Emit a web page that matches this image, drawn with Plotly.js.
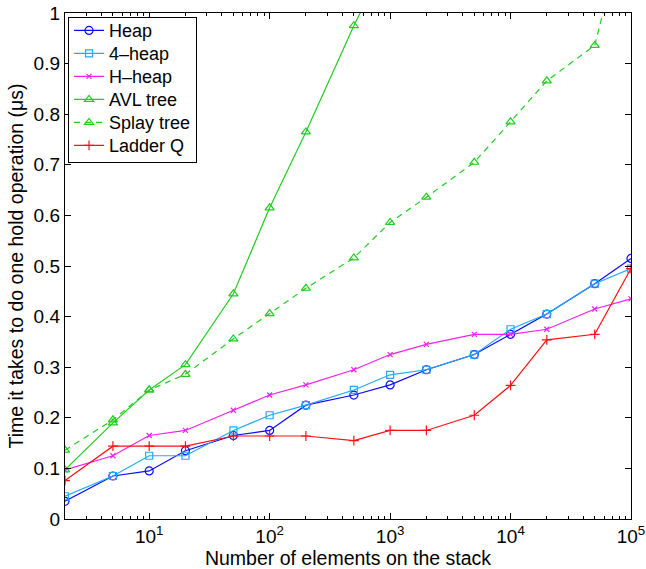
<!DOCTYPE html>
<html>
<head>
<meta charset="utf-8">
<script src="https://cdn.plot.ly/plotly-3.0.1.min.js"></script>
<style>html,body{margin:0;padding:0;background:#fff;}#chart{width:646px;height:569px;}</style>
</head>
<body>
<div id="chart"></div>
<script>
const sizes = [2, 5, 10, 20, 50, 100, 200, 500, 1000, 2000, 5000, 10000, 20000, 50000, 100000];
const heap = [0.035, 0.085, 0.095, 0.135, 0.165, 0.175, 0.225, 0.245, 0.265, 0.295, 0.325, 0.365, 0.405, 0.465, 0.515];
const heap4 = [0.045, 0.085, 0.125, 0.125, 0.175, 0.205, 0.225, 0.255, 0.285, 0.295, 0.325, 0.375, 0.405, 0.465, 0.495];
const hheap = [0.097, 0.125, 0.165, 0.175, 0.215, 0.245, 0.265, 0.295, 0.325, 0.345, 0.365, 0.365, 0.375, 0.415, 0.435];
const avlSizes = [2, 5, 10, 20, 50, 100, 200, 500, 1000];
const avl = [0.097, 0.19, 0.255, 0.305, 0.445, 0.615, 0.765, 0.975, 1.12];
const splay = [0.136, 0.196, 0.255, 0.286, 0.356, 0.406, 0.456, 0.516, 0.586, 0.636, 0.705, 0.785, 0.866, 0.936, 1.22];
const ladder = [0.076, 0.144, 0.144, 0.144, 0.164, 0.164, 0.164, 0.155, 0.175, 0.175, 0.205, 0.264, 0.354, 0.365, 0.495];
const names = ['Heap', '4\u2013heap', 'H\u2013heap', 'AVL tree', 'Splay tree', 'Ladder Q'];
const yTicks = [0, 0.1, 0.2, 0.3, 0.4, 0.5, 0.6, 0.7, 0.8, 0.9, 1];
const yTickText = ['0', '0.1', '0.2', '0.3', '0.4', '0.5', '0.6', '0.7', '0.8', '0.9', '1'];
const xTicks = [10, 100, 1000, 10000, 100000];
const xTickText = ['10<sup>1</sup>', '10<sup>2</sup>', '10<sup>3</sup>', '10<sup>4</sup>', '10<sup>5</sup>'];

const minorX = [];
[1, 10, 100, 1000, 10000].forEach(d => { for (let k = 2; k <= 9; k++) { const v = d * k; if (v >= 2 && v < 100000) minorX.push(v); } });

const font = 'Liberation Sans, Arial, Helvetica, sans-serif';
function tr(x, y, name, color, symbol, msize, dash) {
  return {
    x: x, y: y, name: name, type: 'scatter', mode: 'lines+markers',
    line: {color: color, width: 1.2, dash: dash || 'solid'},
    marker: {symbol: symbol, size: msize, color: color, line: {color: color, width: 1.2}},
    cliponaxis: true
  };
}
const data = [
  tr(sizes, heap, names[0], '#0a0aff', 'circle-open', 8),
  tr(sizes, heap4, names[1], '#20aaff', 'square-open', 7),
  tr(sizes, hheap, names[2], '#f020f0', 'x-thin-open', 5),
  tr(avlSizes, avl, names[3], '#22cc22', 'triangle-up-open', 8),
  tr(sizes, splay, names[4], '#22cc22', 'triangle-up-open', 8, '6px,5px'),
  tr(sizes, ladder, names[5], '#ff1010', 'cross-thin-open', 7)
];
const layout = {
  width: 646, height: 569,
  margin: {l: 65, r: 15, t: 13, b: 50},
  paper_bgcolor: '#fff', plot_bgcolor: '#fff',
  font: {family: font, size: 19, color: '#000'},
  showlegend: true,
  legend: {x: 0.005, y: 0.992, xanchor: 'left', yanchor: 'top', bgcolor: '#fff',
    bordercolor: '#000', borderwidth: 1.2, font: {family: font, size: 18}, tracegroupgap: 0, itemwidth: 30},
  xaxis: {
    type: 'log', range: [Math.log10(2), 5], showgrid: false, zeroline: false,
    showline: true, linecolor: '#000', linewidth: 1.2, mirror: 'ticks',
    ticks: 'inside', ticklen: 6, tickcolor: '#000',
    tickmode: 'array', tickvals: xTicks, ticktext: xTickText,
    tickfont: {family: font, size: 19},
    minor: {tickmode: 'array', tickvals: minorX, ticks: 'inside', ticklen: 3, tickcolor: '#000', showgrid: false},
    title: {text: 'Number of elements on the stack', font: {family: font, size: 19.5}, standoff: 0}
  },
  yaxis: {
    range: [0, 1], showgrid: false, zeroline: false,
    showline: true, linecolor: '#000', linewidth: 1.2, mirror: 'ticks',
    ticks: 'inside', ticklen: 6, tickcolor: '#000',
    tickmode: 'array', tickvals: yTicks, ticktext: yTickText,
    tickfont: {family: font, size: 19},
    title: {text: 'Time it takes to do one hold operation (\u03bcs)', font: {family: font, size: 19.5}, standoff: 4}
  }
};
Plotly.newPlot('chart', data, layout, {displayModeBar: false, staticPlot: true}).then(gd => {
  // tighten legend row spacing to match the reference (about 23px per row)
  try {
    const rows = gd.querySelectorAll('.legend .traces');
    if (rows.length > 1) {
      const parse = el => {
        const m = /translate\(\s*([-\d.]+)[ ,]+([-\d.]+)\s*\)/.exec(el.getAttribute('transform') || '');
        return m ? [parseFloat(m[1]), parseFloat(m[2])] : null;
      };
      const p0 = parse(rows[0]);
      const p1 = parse(rows[1]);
      if (p0 && p1) {
        const oldStep = p1[1] - p0[1];
        const step = 23;
        const y0 = p0[1] - 6;
        rows.forEach((r, i) => {
          const p = parse(r);
          if (p) r.setAttribute('transform', 'translate(' + p[0] + ',' + (y0 + i * step) + ')');
        });
        const bg = gd.querySelector('.legend .bg');
        if (bg) {
          const h = parseFloat(bg.getAttribute('height'));
          bg.setAttribute('height', h - (oldStep - step) * (rows.length - 1) - 8);
        }
      }
    }
  } catch (e) {}
});
</script>
</body>
</html>
